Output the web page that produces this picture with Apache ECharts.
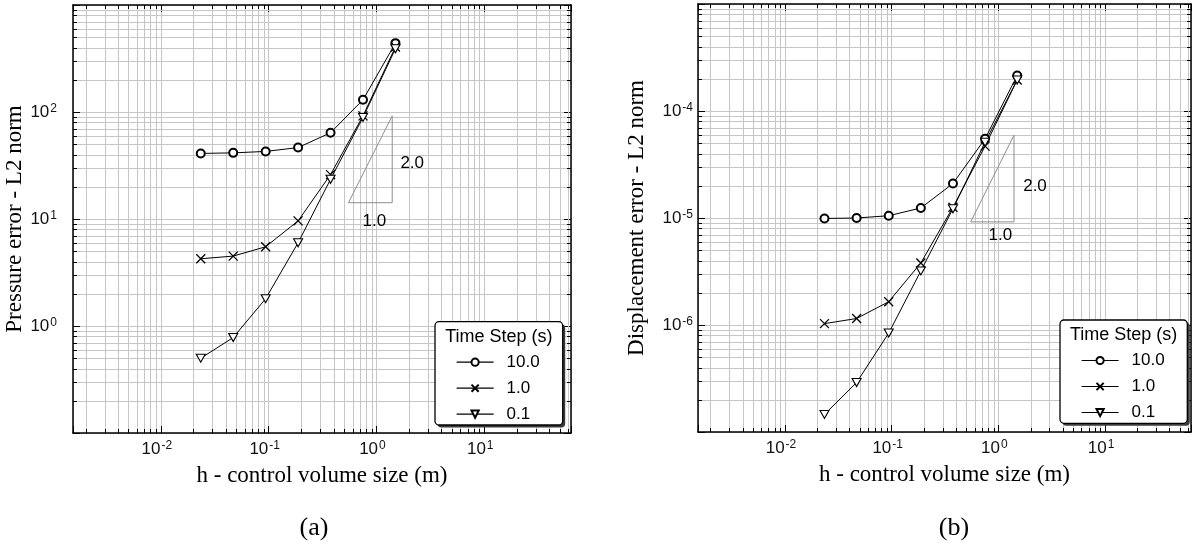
<!DOCTYPE html>
<html><head><meta charset="utf-8">
<script src="https://cdn.jsdelivr.net/npm/echarts@6/dist/echarts.min.js"></script>
<style>html,body{margin:0;padding:0;background:#fff}#c{width:1194px;height:546px}</style>
</head><body><div id="c"></div>
<script>
// ---------- data ----------
const h = [0.0234375, 0.046875, 0.09375, 0.1875, 0.375, 0.75, 1.5];
const seriesNames = ['10.0', '1.0', '0.1'];
const pressure10 = [41, 41.5, 42.8, 46.5, 64, 130, 440];
const pressure1 = [4.25, 4.5, 5.5, 9.6, 26, 92, 405];
const pressure01 = [0.5, 0.78, 1.8, 6.0, 23.5, 89, 390];
const disp10 = [9.9e-6, 1.0e-5, 1.05e-5, 1.24e-5, 2.1e-5, 5.5e-5, 2.15e-4];
const disp1 = [1.03e-6, 1.15e-6, 1.65e-6, 3.8e-6, 1.26e-5, 4.7e-5, 1.95e-4];
const disp01 = [1.46e-7, 2.9e-7, 8.4e-7, 3.2e-6, 1.22e-5, 5.1e-5, 1.95e-4];
const slopeX = [0.55, 1.4];
const slopePressure = [14.2, 92];
const slopeDisp = [9.2e-6, 5.95e-5];
const slopeLabels = ['1.0', '2.0'];
const xRange = [0.00153, 63.8];
const pressureRange = [0.1, 1000];
const dispRange = [1e-7, 1e-3];
const minorMultipliers = [2, 3, 4, 5, 6, 7, 8, 9];
const xDecades = [-3, -2, -1, 0, 1];
const pressureDecades = [-1, 0, 1, 2];
const dispDecades = [-7, -6, -5, -4];
const legendTitle = 'Time Step (s)';
const xTitle = 'h - control volume size (m)';
const yTitles = ['Pressure error - L2 norm', 'Displacement error - L2 norm'];
const panelLabels = ['(a)', '(b)'];

// ---------- helpers ----------
const SANS = 'Liberation Sans', SERIF = 'Liberation Serif';
const GRID_COLOR = '#c6c6c6';
function minorValues(decades, range) {
  const out = [];
  decades.forEach(d => minorMultipliers.forEach(m => {
    const v = m * Math.pow(10, d);
    if (v > range[0] && v < range[1]) out.push(v);
  }));
  return out;
}
const rich = {
  b: { fontSize: 17, lineHeight: 18, fontFamily: SANS, color: '#111' },
  s: { fontSize: 12, lineHeight: 12, fontFamily: SANS, color: '#111', verticalAlign: 'top', padding: [0, 0, 0, 1] }
};
function powFormatter(range) {
  return function (v) {
    if (v <= range[0] * 1.05 || v >= range[1] * 0.95) return '';
    const e = Math.round(Math.log10(v));
    return '{b|10}{s|' + e + '}';
  };
}

const panels = [
  { grid: { left: 73, top: 5, width: 498, height: 428 }, yRange: pressureRange, yDec: pressureDecades,
    ys: [pressure10, pressure1, pressure01], slopeY: slopePressure, yMargin: 16, nameGap: 33,
    lab1: [4, 19], lab2: [20, 4], box: [435, 321.7, 127.7, 103.3] },
  { grid: { left: 698, top: 4, width: 495, height: 428 }, yRange: dispRange, yDec: dispDecades,
    ys: [disp10, disp1, disp01], slopeY: slopeDisp, yMargin: 5, nameGap: 50,
    lab1: [8, 13], lab2: [21, 8], box: [1060, 320, 127.3, 103.3] }
];

const symbols = [
  { symbol: 'emptyCircle', symbolSize: 8, itemStyle: { color: '#000', borderColor: '#000', borderWidth: 1.2 } },
  { symbol: 'path://M0,0L10,10M10,0L0,10', symbolSize: 9, itemStyle: { color: '#000', borderColor: '#000', borderWidth: 1.3 } },
  { symbol: 'path://M0,0L10,0L5,9Z', symbolSize: [9, 8], itemStyle: { color: '#fff', borderColor: '#000', borderWidth: 1.1 } }
];

function renderMinor(params, api) {
  const cs = params.coordSys;
  const p = api.coord([api.value(0), api.value(1)]);
  const kind = api.value(2);
  const grey = { stroke: GRID_COLOR, lineWidth: 1 };
  const blk = { stroke: '#000', lineWidth: 1 };
  let ch;
  if (kind === 0) {
    const x = Math.round(p[0]) + 0.5, y0 = cs.y, y1 = cs.y + cs.height;
    ch = [
      { type: 'line', shape: { x1: x, y1: y0, x2: x, y2: y1 }, style: grey },
      { type: 'line', shape: { x1: x, y1: y1, x2: x, y2: y1 - 4 }, style: blk },
      { type: 'line', shape: { x1: x, y1: y0, x2: x, y2: y0 + 4 }, style: blk }
    ];
  } else {
    const y = Math.round(p[1]) + 0.5, x0 = cs.x, x1 = cs.x + cs.width;
    ch = [
      { type: 'line', shape: { x1: x0, y1: y, x2: x1, y2: y }, style: grey },
      { type: 'line', shape: { x1: x0, y1: y, x2: x0 + 4, y2: y }, style: blk },
      { type: 'line', shape: { x1: x1, y1: y, x2: x1 - 4, y2: y }, style: blk }
    ];
  }
  return { type: 'group', children: ch };
}

const grid = [], xAxis = [], yAxis = [], series = [], legend = [], graphic = [];
const axisLine = { show: true, onZero: false, lineStyle: { color: '#000', width: 1.5 } };
const axisTick = { show: true, inside: true, length: 7, lineStyle: { color: '#000', width: 1 } };

panels.forEach((P, pi) => {
  grid.push(P.grid);
  const xi = xAxis.length, yi = yAxis.length;
  xAxis.push({
    type: 'log', gridIndex: pi, min: xRange[0], max: xRange[1], position: 'bottom',
    axisLine, axisTick, splitLine: { show: true, lineStyle: { color: GRID_COLOR, width: 1 } },
    axisLabel: { formatter: powFormatter(xRange), rich, fontSize: 17, color: '#111', margin: 7, padding: [0, 8, 0, 0] },
    name: xTitle, nameLocation: 'middle', nameGap: 31,
    nameTextStyle: { fontFamily: SERIF, fontSize: 23, color: '#000' }
  });
  xAxis.push({
    type: 'log', gridIndex: pi, min: xRange[0], max: xRange[1], position: 'top',
    axisLine, axisTick, splitLine: { show: false }, axisLabel: { show: false }
  });
  yAxis.push({
    type: 'log', gridIndex: pi, min: P.yRange[0], max: P.yRange[1], position: 'left',
    axisLine, axisTick, splitLine: { show: true, lineStyle: { color: GRID_COLOR, width: 1 } },
    axisLabel: { formatter: powFormatter(P.yRange), rich, fontSize: 17, color: '#111', margin: P.yMargin },
    name: yTitles[pi], nameLocation: 'middle', nameGap: P.nameGap,
    nameTextStyle: { fontFamily: SERIF, fontSize: 23, color: '#000' }
  });
  yAxis.push({
    type: 'log', gridIndex: pi, min: P.yRange[0], max: P.yRange[1], position: 'right',
    axisLine, axisTick, splitLine: { show: false }, axisLabel: { show: false }
  });

  const xMid = Math.sqrt(xRange[0] * xRange[1]);
  const yMid = Math.sqrt(P.yRange[0] * P.yRange[1]);
  const minorData = minorValues(xDecades, xRange).map(v => [v, yMid, 0])
    .concat(minorValues(P.yDec, P.yRange).map(v => [xMid, v, 1]));
  series.push({
    type: 'custom', xAxisIndex: xi, yAxisIndex: yi, silent: true, z: 1,
    renderItem: renderMinor, data: minorData, encode: { x: 0, y: 1 }, tooltip: { show: false }
  });

  // slope triangle
  const tri = [[slopeX[0], P.slopeY[0]], [slopeX[1], P.slopeY[0]], [slopeX[1], P.slopeY[1]], [slopeX[0], P.slopeY[0]]];
  series.push({
    type: 'line', xAxisIndex: xi, yAxisIndex: yi, data: tri, symbol: 'none', silent: true, z: 2,
    lineStyle: { color: '#8e8e8e', width: 1 }
  });
  series.push({
    type: 'scatter', xAxisIndex: xi, yAxisIndex: yi, symbolSize: 0, silent: true, z: 4,
    itemStyle: { opacity: 1 },
    data: [
      { name: slopeLabels[0], value: [Math.sqrt(slopeX[0] * slopeX[1]), P.slopeY[0]], label: { offset: P.lab1 } },
      { name: slopeLabels[1], value: [slopeX[1], Math.sqrt(P.slopeY[0] * P.slopeY[1])], label: { offset: P.lab2 } }
    ],
    label: { show: true, position: 'inside', formatter: '{b}', fontFamily: SANS, fontSize: 17, color: '#000', opacity: 1, textBorderWidth: 0 }
  });

  seriesNames.forEach((nm, si) => {
    series.push(Object.assign({
      type: 'line', name: nm, xAxisIndex: xi, yAxisIndex: yi, z: 3,
      data: h.map((x, k) => [x, P.ys[si][k]]),
      showAllSymbol: true,
      lineStyle: { color: '#000', width: 1 }
    }, symbols[si]));
  });

  const [bx, by, bw, bh] = P.box;
  graphic.push({
    type: 'rect', z: 8, silent: true, shape: { x: bx + 2.5, y: by + 2.5, width: bw, height: bh, r: 4 },
    style: { fill: '#3a3a3a' }
  });
  graphic.push({
    type: 'rect', z: 9, silent: true, shape: { x: bx, y: by, width: bw, height: bh, r: 4 },
    style: { fill: '#fff', stroke: '#000', lineWidth: 1.3 }
  });
  legend.push({
    left: bx + 21, top: by + 32, orient: 'vertical', data: seriesNames,
    itemWidth: 37, itemHeight: 9, itemGap: 9, padding: 0,
    backgroundColor: 'transparent', borderWidth: 0,
    lineStyle: { color: '#000', width: 1.2 },
    textStyle: { fontFamily: SANS, fontSize: 17, color: '#000', lineHeight: 16, padding: [0, 0, 0, 8] },
    selectedMode: false, z: 10
  });
  graphic.push({
    type: 'text', z: 100, x: bx + bw / 2, y: by + 15,
    style: { text: legendTitle, fontFamily: SANS, fontSize: 18, fill: '#000', align: 'center', verticalAlign: 'middle' }
  });
  graphic.push({
    type: 'text', z: 100, x: [314, 954][pi], y: 528,
    style: { text: panelLabels[pi], fontFamily: SERIF, fontSize: 26, fill: '#000', align: 'center', verticalAlign: 'middle' }
  });
});

const chart = echarts.init(document.getElementById('c'), null, { renderer: 'canvas' });
chart.setOption({
  animation: false,
  backgroundColor: '#fff',
  textStyle: { fontFamily: SANS },
  grid, xAxis, yAxis, series, legend, graphic
});
</script></body></html>
